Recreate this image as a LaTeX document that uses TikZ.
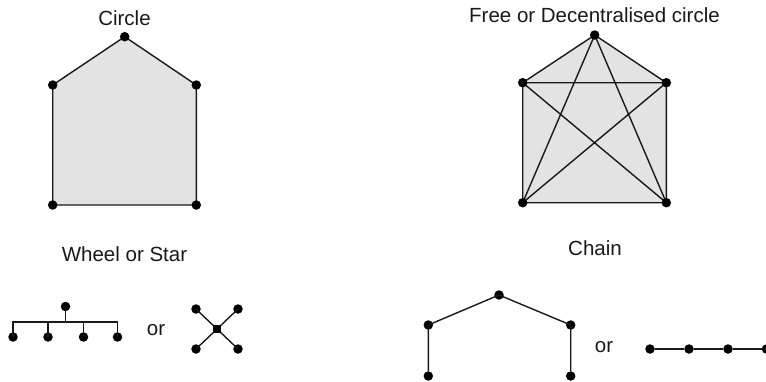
\documentclass[tikz,border=0pt]{standalone}
\usepackage{fontspec}
\setmainfont{Liberation Sans}
\begin{document}
\begin{tikzpicture}[x=1pt,y=-1pt,
  dot/.style={circle,fill=black,inner sep=0pt,minimum size=9.5pt},
  hub/.style={rectangle,fill=black,inner sep=0pt,minimum size=8pt},
  edge/.style={line width=1.4pt,black!90},
  lbl/.style={anchor=base,inner sep=0pt,font=\fontsize{20.5}{24}\selectfont,text=black!90}]
\useasboundingbox (0,0) rectangle (766,381);
% Circle
\node[lbl] (t1) at (124.5,25) {Circle};
\coordinate (ca) at (124.7,36.7);
\coordinate (cb) at (196.3,85);
\coordinate (cc) at (196.3,205);
\coordinate (cd) at (52.7,205);
\coordinate (ce) at (52.7,85);
\filldraw[edge,fill=black!11] (ca) -- (cb) -- (cc) -- (cd) -- (ce) -- cycle;
\foreach \p in {ca,cb,cc,cd,ce} \node[dot] at (\p) {};
% Free
\node[lbl] (t2) at (594.5,22) {Free or Decentralised circle};
\coordinate (fa) at (594.7,35);
\coordinate (fb) at (666.3,82.7);
\coordinate (fc) at (666.3,202.7);
\coordinate (fd) at (522.7,202.7);
\coordinate (fe) at (522.7,82.7);
\filldraw[edge,fill=black!11] (fa) -- (fb) -- (fc) -- (fd) -- (fe) -- cycle;
\draw[edge] (fa) -- (fc) (fa) -- (fd) (fb) -- (fe) (fb) -- (fd) (fe) -- (fc);
\foreach \p in {fa,fb,fc,fd,fe} \node[dot] at (\p) {};
% Wheel or Star
\node[lbl] (t3) at (124.5,261) {Wheel or Star};
\node[dot] (wt) at (65.5,306.5) {};
\coordinate (wj) at (65.5,322);
\coordinate (wl) at (13,322);
\coordinate (wr) at (117.5,322);
\node[dot] (w1) at (13,337) {};
\node[dot] (w2) at (48,337) {};
\node[dot] (w3) at (83.5,337) {};
\node[dot] (w4) at (117.5,337) {};
\draw[edge] (wt.center) -- (wj);
\draw[edge] (w1.center) -- (wl) -- (wr) -- (w4.center);
\draw[edge] (w2.center) -- (w2.center |- wj);
\draw[edge] (w3.center) -- (w3.center |- wj);
\node[lbl] (or1) at (156,335) {or};
\node[hub] (sc) at (217,329) {};
\node[dot] (s1) at (196,309) {};
\node[dot] (s2) at (238,309) {};
\node[dot] (s3) at (196,349) {};
\node[dot] (s4) at (238,349) {};
\draw[edge] (s1.center) -- (s4.center) (s2.center) -- (s3.center);
\node[hub] at (sc) {};
% Chain
\node[lbl] (t4) at (595,255) {Chain};
\node[dot] (c1) at (428.3,376) {};
\node[dot] (c2) at (428.3,325) {};
\node[dot] (c3) at (499,295) {};
\node[dot] (c4) at (570.7,325) {};
\node[dot] (c5) at (570.7,376) {};
\draw[edge] (c1) -- (c2.center) -- (c3.center) -- (c4.center) -- (c5);
\node[lbl] (or2) at (604,352) {or};
\node[dot] (l1) at (650,349) {};
\node[dot] (l2) at (689,349) {};
\node[dot] (l3) at (728,349) {};
\node[dot] (l4) at (766.5,349) {};
\draw[edge] (l1) -- (l2) -- (l3) -- (l4);
\end{tikzpicture}
\end{document}
